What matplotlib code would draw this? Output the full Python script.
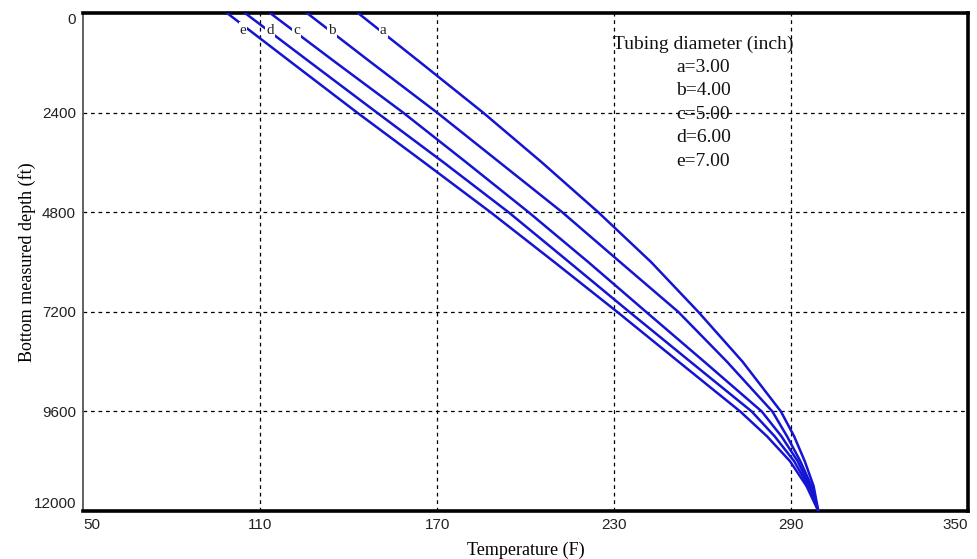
import matplotlib
matplotlib.use("Agg")
import matplotlib.pyplot as plt

# Data
depth = [0, 1200, 2400, 3600, 4800, 6000, 7200, 8400, 9600, 10200, 10800, 11400, 12000]
temp_a = [143.2, 164.5, 185.6, 205.5, 224.6, 242.5, 258.5, 273.5, 286.5, 291.0, 294.6, 297.6, 299.2]
temp_b = [125.9, 147.8, 170.0, 191.2, 212.4, 232.0, 251.7, 268.2, 283.6, 288.6, 293.1, 296.9, 299.2]
temp_c = [113.4, 135.8, 158.5, 179.9, 201.0, 221.2, 240.8, 260.5, 280.0, 286.7, 292.2, 296.3, 299.2]
temp_d = [104.9, 127.2, 149.6, 172.2, 194.2, 214.7, 235.1, 255.8, 276.6, 284.4, 291.0, 295.8, 299.2]
temp_e = [98.8, 120.8, 142.9, 165.6, 188.1, 209.7, 231.0, 251.8, 272.7, 281.8, 289.6, 295.2, 299.2]
series = {"a": temp_a, "b": temp_b, "c": temp_c, "d": temp_d, "e": temp_e}
diameters = ["3.00", "4.00", "5.00", "6.00", "7.00"]
label_temps = [151.7, 134.4, 122.5, 113.4, 104.2]
label_depth = 410

xticks = [50, 110, 170, 230, 290, 350]
yticks = [0, 2400, 4800, 7200, 9600, 12000]

fig = plt.figure(figsize=(9.77, 5.59), dpi=100)
ax = fig.add_axes([0.085, 0.0859, 0.906, 0.8908])

blue = "#1414d2"
for (name, temps), lt in zip(series.items(), label_temps):
    ax.plot(temps, depth, color=blue, lw=1.8, solid_joinstyle="round", zorder=3)
    ax.text(lt, label_depth, name, family="Liberation Serif", fontsize=11,
            ha="center", va="center", color="#222222", zorder=4,
            bbox=dict(facecolor="white", edgecolor="none", pad=0.8))

ax.set_xlim(50, 350)
ax.set_ylim(12000, 0)
ax.set_xticks(xticks)
ax.set_yticks(yticks)
ax.set_xticklabels([str(v) for v in xticks])
ax.set_yticklabels([str(v) for v in yticks])
ax.tick_params(axis="x", length=0, labelsize=11, labelcolor="#222222", pad=5)
ax.tick_params(axis="y", length=0, labelsize=11, labelcolor="#222222", pad=5)
for lab in ax.get_xticklabels() + ax.get_yticklabels():
    lab.set_family("Liberation Sans")
xl_ = ax.get_xticklabels()
xl_[0].set_ha("left")
xl_[-1].set_ha("right")
yl_ = ax.get_yticklabels()
yl_[0].set_va("top")
yl_[-1].set_va("bottom")

for v in xticks[1:-1]:
    ax.axvline(v, color="black", ls=(0, (3, 3)), lw=0.9, zorder=1)
for v in yticks[1:-1]:
    ax.axhline(v, color="black", ls=(0, (3, 3)), lw=0.9, zorder=1)

for s in ["top", "bottom", "right"]:
    ax.spines[s].set_linewidth(2.6)
    ax.spines[s].set_color("black")
ax.spines["left"].set_linewidth(1.3)
ax.spines["left"].set_color("#555555")

ax.set_xlabel("Temperature (F)", family="Liberation Serif", fontsize=13, labelpad=7)
ax.set_ylabel("Bottom measured depth (ft)", family="Liberation Serif", fontsize=13, labelpad=-1.5)

lx = 0.7006
ax.text(lx, 0.938, "Tubing diameter (inch)", transform=ax.transAxes, ha="center",
        va="center", family="Liberation Serif", fontsize=14, color="#111111")
for i, (name, d) in enumerate(zip(series.keys(), diameters)):
    ax.text(lx, 0.938 - (i + 1) * 0.0472, f"{name}={d}", transform=ax.transAxes,
            ha="center", va="center", family="Liberation Serif", fontsize=14,
            color="#111111")

fig.savefig("out.png", dpi=100)
